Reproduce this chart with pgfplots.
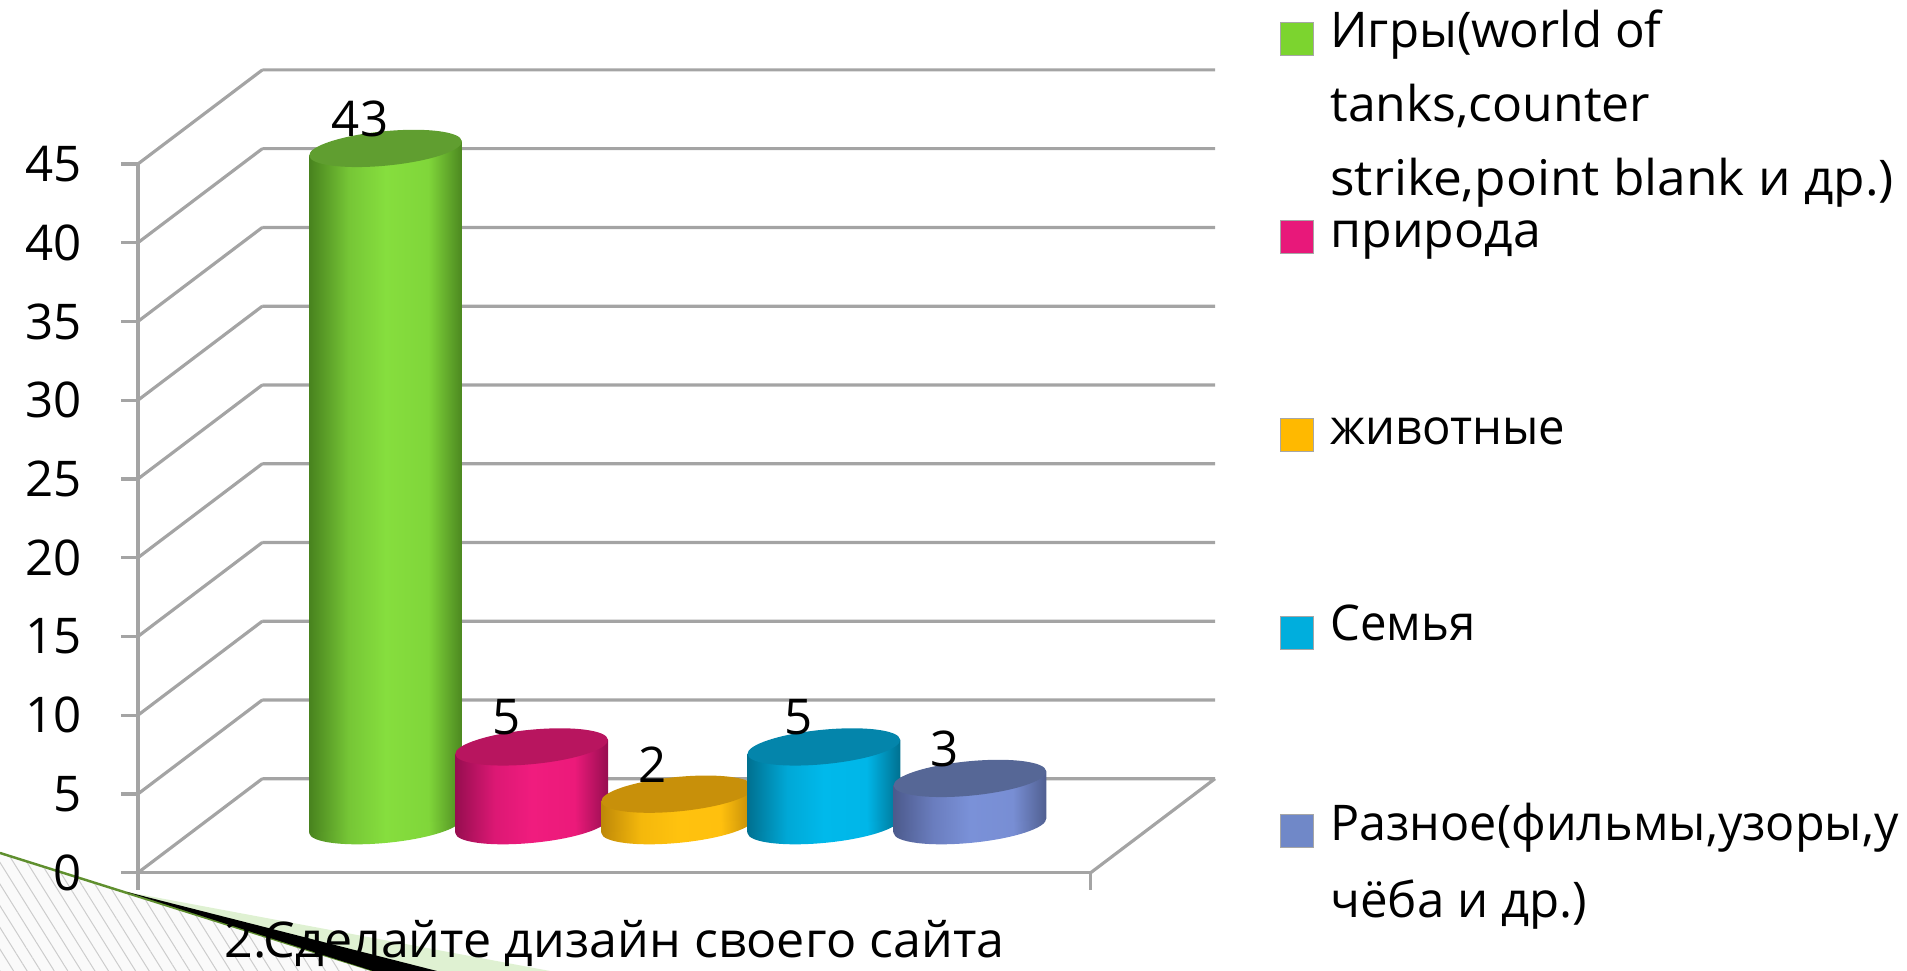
\documentclass[border=0pt]{standalone}
\usepackage{fontspec}
\setmainfont{Open Sans}
\usepackage{pgfplots}
\pgfplotsset{compat=1.18}
\usetikzlibrary{patterns.meta}

\definecolor{wallgray}{HTML}{A4A4A4}
\definecolor{capgreen}{HTML}{609E30}
\definecolor{cappink}{HTML}{B8155F}
\definecolor{capamber}{HTML}{C8900A}
\definecolor{capblue}{HTML}{0485AB}
\definecolor{capslate}{HTML}{566796}
\definecolor{keygreen}{HTML}{7CD42F}
\definecolor{keypink}{HTML}{E8187A}
\definecolor{keyamber}{HTML}{FFB900}
\definecolor{keyblue}{HTML}{00AEDD}
\definecolor{keyslate}{HTML}{7088C8}
\definecolor{swoosh}{HTML}{DFF1D2}
\definecolor{swooshline}{HTML}{5F8F2E}

% side of each cylinder, dark at the rims
\pgfdeclarehorizontalshading{bodygreen}{100bp}{color(0bp)=(rgb,255:red,72;green,130;blue,30); color(25bp)=(rgb,255:red,72;green,130;blue,30); color(38bp)=(rgb,255:red,118;green,198;blue,54); color(50bp)=(rgb,255:red,134;green,222;blue,62); color(64bp)=(rgb,255:red,128;green,214;blue,58); color(75bp)=(rgb,255:red,76;green,136;blue,32); color(100bp)=(rgb,255:red,76;green,136;blue,32)}
\pgfdeclarehorizontalshading{bodypink}{100bp}{color(0bp)=(rgb,255:red,150;green,14;blue,80); color(25bp)=(rgb,255:red,150;green,14;blue,80); color(38bp)=(rgb,255:red,220;green,24;blue,116); color(50bp)=(rgb,255:red,240;green,28;blue,126); color(64bp)=(rgb,255:red,236;green,26;blue,122); color(75bp)=(rgb,255:red,150;green,14;blue,80); color(100bp)=(rgb,255:red,150;green,14;blue,80)}
\pgfdeclarehorizontalshading{bodyamber}{100bp}{color(0bp)=(rgb,255:red,190;green,136;blue,8); color(25bp)=(rgb,255:red,190;green,136;blue,8); color(38bp)=(rgb,255:red,244;green,184;blue,12); color(50bp)=(rgb,255:red,255;green,194;blue,14); color(64bp)=(rgb,255:red,255;green,192;blue,14); color(75bp)=(rgb,255:red,190;green,136;blue,8); color(100bp)=(rgb,255:red,190;green,136;blue,8)}
\pgfdeclarehorizontalshading{bodyblue}{100bp}{color(0bp)=(rgb,255:red,0;green,112;blue,144); color(25bp)=(rgb,255:red,0;green,112;blue,144); color(38bp)=(rgb,255:red,0;green,168;blue,214); color(50bp)=(rgb,255:red,0;green,185;blue,235); color(64bp)=(rgb,255:red,0;green,182;blue,232); color(75bp)=(rgb,255:red,0;green,112;blue,144); color(100bp)=(rgb,255:red,0;green,112;blue,144)}
\pgfdeclarehorizontalshading{bodyslate}{100bp}{color(0bp)=(rgb,255:red,76;green,90;blue,140); color(25bp)=(rgb,255:red,76;green,90;blue,140); color(38bp)=(rgb,255:red,106;green,125;blue,190); color(50bp)=(rgb,255:red,122;green,145;blue,216); color(64bp)=(rgb,255:red,120;green,142;blue,212); color(75bp)=(rgb,255:red,80;green,95;blue,144); color(100bp)=(rgb,255:red,80;green,95;blue,144)}

% tilted discs for the ends of the cylinders
\pgfdeclareplotmark{topcap}{%
  \pgfpathellipse{\pgfpointorigin}{\pgfpointpolar{5.5}{7.67mm}}{\pgfpointpolar{95.5}{1.72mm}}%
  \pgfusepathqfill}
\newcommand{\basemark}[1]{%
  \pgfdeclareplotmark{base#1}{%
    \pgfpathellipse{\pgfpointorigin}{\pgfpointpolar{5.5}{7.67mm}}{\pgfpointpolar{95.5}{1.72mm}}%
    \pgfshadepath{body#1}{0}\pgfusepath{discard}}}
\basemark{green}\basemark{pink}\basemark{amber}\basemark{blue}\basemark{slate}

\newcommand{\txtfont}{\fontsize{14}{17}\selectfont}

\pgfplotsset{
  capstyle/.style={only marks, mark=topcap, nodes near coords,
    every node near coord/.append style={anchor=center, xshift=-2.55mm, yshift=2.95mm,
      font=\txtfont, black, inner sep=0pt}},
  key/.style={only marks, mark=square*, mark size=1.65mm,
    mark options={draw=gray!70, line width=0.3pt, fill=#1}},
}

\begin{document}
\begin{tikzpicture}
% hide axis leaves the page to its contents, so fix the page here
\path[use as bounding box] (0,0) rectangle (190.7mm,97.1mm);
% whole slide: x counts the columns, y the values on the plane of the columns
\begin{axis}[
    at={(0,0)}, anchor=south west,
    scale only axis, width=190.7mm, height=97.1mm,
    xmin=-2.6386, xmax=10.4141, ymin=-9.2254, ymax=52.425,
    hide axis,
    clip marker paths=true,
    /pgf/number format/assume math mode=true,
    unbounded coords=jump,
]
% slide decoration
\addplot[draw=none, fill=black!2, forget plot] coordinates {(-2.6386,-1.733)(-0.072,-9.2254)(-2.6386,-9.2254)} -- cycle;
\addplot[draw=none, pattern={Lines[angle=-58,distance=1.15mm,line width=0.1mm]}, pattern color=black!20, forget plot] coordinates {(-2.6386,-1.733)(-0.072,-9.2254)(-2.6386,-9.2254)} -- cycle;
\addplot[draw=none, fill=swoosh, forget plot] coordinates {(-1.769,-4.210)(1.126,-9.2254)(-0.086,-9.2254)} -- cycle;
\addplot[color=swooshline, line width=0.7pt, forget plot] coordinates {(-2.6386,-1.733)(-0.072,-9.2254)};
\addplot[draw=none, fill=black, forget plot] coordinates {(-1.769,-4.210)(0.352,-9.2254)(-0.086,-9.2254)} -- cycle;

% back wall, side wall and floor
\addplot[wallgray, line width=0.9pt, forget plot] coordinates {
  (-0.843,2.984)(5.678,2.984)(nan,nan)
  (-0.843,7.984)(5.678,7.984)(nan,nan)
  (-0.843,12.984)(5.678,12.984)(nan,nan)
  (-0.843,17.984)(5.678,17.984)(nan,nan)
  (-0.843,22.984)(5.678,22.984)(nan,nan)
  (-0.843,27.984)(5.678,27.984)(nan,nan)
  (-0.843,32.984)(5.678,32.984)(nan,nan)
  (-0.843,37.984)(5.678,37.984)(nan,nan)
  (-0.843,42.984)(5.678,42.984)(nan,nan)
  (-0.843,47.984)(5.678,47.984)(nan,nan)
  (-1.694,-2.984)(-0.843,2.984)(nan,nan)
  (-1.694,2.016)(-0.843,7.984)(nan,nan)
  (-1.694,7.016)(-0.843,12.984)(nan,nan)
  (-1.694,12.016)(-0.843,17.984)(nan,nan)
  (-1.694,17.016)(-0.843,22.984)(nan,nan)
  (-1.694,22.016)(-0.843,27.984)(nan,nan)
  (-1.694,27.016)(-0.843,32.984)(nan,nan)
  (-1.694,32.016)(-0.843,37.984)(nan,nan)
  (-1.694,37.016)(-0.843,42.984)(nan,nan)
  (-1.694,42.016)(-0.843,47.984)(nan,nan)
  (4.827,-2.984)(5.678,2.984)
};

% cylinders, left to right
\addplot[only marks, mark=basegreen, forget plot] coordinates {(0,0)};
\addplot[draw=none, shade, shading=bodygreen, forget plot] coordinates {(-0.5236,-0.443)(0.5236,0.443)(0.5236,43.443)(-0.5236,42.557)} -- cycle;
\addplot[capstyle, mark options={fill=capgreen}, forget plot] coordinates {(0,43)};

\addplot[only marks, mark=basepink, forget plot] coordinates {(1,0)};
\addplot[draw=none, shade, shading=bodypink, forget plot] coordinates {(0.4764,-0.443)(1.5236,0.443)(1.5236,5.443)(0.4764,4.557)} -- cycle;
\addplot[capstyle, mark options={fill=cappink}, forget plot] coordinates {(1,5)};

\addplot[only marks, mark=baseamber, forget plot] coordinates {(2,0)};
\addplot[draw=none, shade, shading=bodyamber, forget plot] coordinates {(1.4764,-0.443)(2.5236,0.443)(2.5236,2.443)(1.4764,1.557)} -- cycle;
\addplot[capstyle, mark options={fill=capamber}, forget plot] coordinates {(2,2)};

\addplot[only marks, mark=baseblue, forget plot] coordinates {(3,0)};
\addplot[draw=none, shade, shading=bodyblue, forget plot] coordinates {(2.4764,-0.443)(3.5236,0.443)(3.5236,5.443)(2.4764,4.557)} -- cycle;
\addplot[capstyle, mark options={fill=capblue}, forget plot] coordinates {(3,5)};

\addplot[only marks, mark=baseslate, forget plot] coordinates {(4,0)};
\addplot[draw=none, shade, shading=bodyslate, forget plot] coordinates {(3.4764,-0.443)(4.5236,0.443)(4.5236,3.443)(3.4764,2.557)} -- cycle;
\addplot[capstyle, mark options={fill=capslate}, forget plot] coordinates {(4,3)};

% legend
\addplot[key=keygreen] coordinates {(6.239,49.95)};
\addplot[key=keypink] coordinates {(6.239,37.38)};
\addplot[key=keyamber] coordinates {(6.239,24.81)};
\addplot[key=keyblue] coordinates {(6.239,12.24)};
\addplot[key=keyslate] coordinates {(6.239,-0.33)};
\begin{scope}[every node/.style={anchor=base west, inner sep=0pt, font=\txtfont}]
\node at (axis cs:6.463,49.38) {Игры(world of};
\node at (axis cs:6.463,44.68) {\scalebox{1.015}[1]{tanks,counter}};
\node at (axis cs:6.463,40.04) {\scalebox{1.045}[1]{strike,point blank и др.)}};
\node at (axis cs:6.463,36.73) {\scalebox{1.015}[1]{природа}};
\node at (axis cs:6.463,24.17) {\scalebox{0.96}[1]{животные}};
\node at (axis cs:6.463,11.73) {\scalebox{0.96}[1]{Семья}};
\node at (axis cs:6.463,-0.97) {\scalebox{0.985}[1]{Разное(фильмы,узоры,у}};
\node at (axis cs:6.463,-5.80) {чёба и др.)};
\end{scope}
\end{axis}

% front edge of the chart, with the value scale and the caption
\begin{axis}[
    at={(13.8mm,9.83mm)}, anchor=south west,
    scale only axis, width=95.27mm, height=70.87mm,
    xmin=0, xmax=1, ymin=0, ymax=45,
    axis y line=left, axis x line=bottom,
    axis line style={-, wallgray, line width=0.9pt},
    xtick={0,1}, xticklabels={},
    ytick={0,5,...,45},
    tick align=outside, major tick length=1.7mm,
    tick style={wallgray, line width=0.9pt},
    /pgf/number format/assume math mode=true,
    yticklabel style={font=\txtfont, black, xshift=-2.7mm},
    xlabel={\scalebox{1.02}[1]{2.Сделайте дизайн своего сайта}},
    xlabel style={font=\txtfont, black, anchor=base, at={(axis description cs:0.5,0)}, yshift=-8.5mm},
]
\addplot[draw=none, forget plot] coordinates {(0,0)(1,45)};
\end{axis}
\end{tikzpicture}
\end{document}
